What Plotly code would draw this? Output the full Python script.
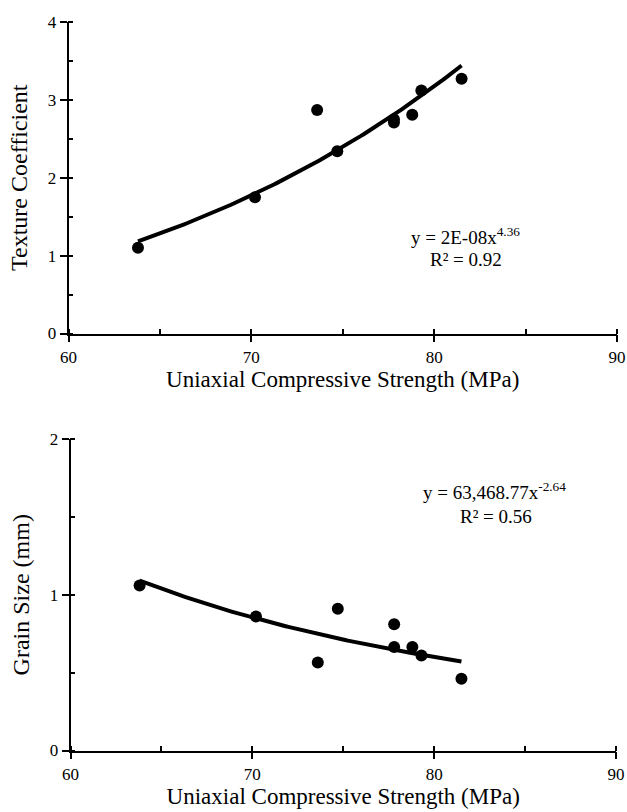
import numpy as np
import plotly.graph_objects as go

# Data
ucs = [63.8, 70.2, 73.6, 74.7, 77.8, 77.8, 78.8, 79.3, 81.5]
texture_coef = [1.10, 1.75, 2.87, 2.34, 2.71, 2.75, 2.81, 3.12, 3.27]
grain_size = [1.06, 0.86, 0.565, 0.91, 0.81, 0.665, 0.665, 0.61, 0.46]

# Power-law trendline parameters (y = a * x^b)
tc_a, tc_b = 1.6e-8, 4.36
gs_a, gs_b = 63468.77, -2.64

x_ticks = [60, 70, 80, 90]
tc_ticks = [0, 1, 2, 3, 4]
gs_ticks = [0, 1, 2]

xf = np.linspace(min(ucs), max(ucs), 120)
tc_fit = tc_a * xf ** tc_b
gs_fit = gs_a * xf ** gs_b

W, H = 627, 812
FONT = "Liberation Serif"

def px_x(p):
    return p / W

def px_y(p):
    return 1 - p / H

fig = go.Figure()
fig.add_trace(go.Scatter(x=xf, y=tc_fit, mode="lines", line=dict(color="black", width=4),
                         xaxis="x", yaxis="y", showlegend=False, hoverinfo="skip"))
fig.add_trace(go.Scatter(x=ucs, y=texture_coef, mode="markers",
                         marker=dict(color="black", size=12, symbol="circle"),
                         xaxis="x", yaxis="y", showlegend=False))
fig.add_trace(go.Scatter(x=xf, y=gs_fit, mode="lines", line=dict(color="black", width=4),
                         xaxis="x2", yaxis="y2", showlegend=False, hoverinfo="skip"))
fig.add_trace(go.Scatter(x=ucs, y=grain_size, mode="markers",
                         marker=dict(color="black", size=12, symbol="circle"),
                         xaxis="x2", yaxis="y2", showlegend=False))

def xax(domain, anchor):
    return dict(domain=domain, anchor=anchor, range=[60, 90], tickvals=x_ticks,
                showline=True, linecolor="black", linewidth=1.5, showgrid=False, zeroline=False,
                ticks="outside", ticklen=7, tickwidth=1.5, tickcolor="black",
                minor=dict(ticks="inside", ticklen=5, tickwidth=1.5, tickcolor="black", dtick=5, showgrid=False),
                tickfont=dict(family=FONT, size=17, color="black"),
                title=dict(text="Uniaxial Compressive Strength (MPa)",
                           font=dict(family=FONT, size=23, color="black"), standoff=5),
                automargin=False)

def yax(domain, anchor, rng, ticks, minor_dt, title):
    return dict(domain=domain, anchor=anchor, range=rng, tickvals=ticks,
                showline=True, linecolor="black", linewidth=1.5, showgrid=False, zeroline=False,
                ticks="outside", ticklen=7, tickwidth=1.5, tickcolor="black",
                minor=dict(ticks="inside", ticklen=5, tickwidth=1.5, tickcolor="black", dtick=minor_dt, showgrid=False),
                tickfont=dict(family=FONT, size=17, color="black"),
                title=dict(text=title, font=dict(family=FONT, size=24, color="black"), standoff=13),
                automargin=False)

ann_font = dict(family=FONT, size=19, color="black")

fig.update_layout(
    width=W, height=H,
    margin=dict(l=0, r=0, t=0, b=0),
    paper_bgcolor="white", plot_bgcolor="white",
    font=dict(family=FONT, color="black"),
    xaxis=xax([px_x(68.5), px_x(617)], "y"),
    yaxis=yax([px_y(333.5), px_y(22)], "x", [0, 4], tc_ticks, 0.5, "Texture Coefficient"),
    xaxis2=xax([px_x(70.5), px_x(616)], "y2"),
    yaxis2=yax([px_y(750.5), px_y(439)], "x2", [0, 2], gs_ticks, 0.5, "Grain Size (mm)"),
    annotations=[
        dict(x=81.7, y=1.25, xref="x", yref="y", text="y = 2E-08x<sup>4.36</sup>", showarrow=False,
             font=ann_font, xanchor="center", yanchor="middle"),
        dict(x=81.75, y=0.955, xref="x", yref="y", text="R² = 0.92", showarrow=False,
             font=ann_font, xanchor="center", yanchor="middle"),
        dict(x=83.3, y=1.665, xref="x2", yref="y2", text="y = 63,468.77x<sup>-2.64</sup>", showarrow=False,
             font=ann_font, xanchor="center", yanchor="middle"),
        dict(x=83.4, y=1.505, xref="x2", yref="y2", text="R² = 0.56", showarrow=False,
             font=ann_font, xanchor="center", yanchor="middle"),
    ],
)

fig.write_html(
    "out.html",
    config={"displayModeBar": False},
    post_script="document.body.style.margin='0';document.body.style.overflow='hidden';",
)
